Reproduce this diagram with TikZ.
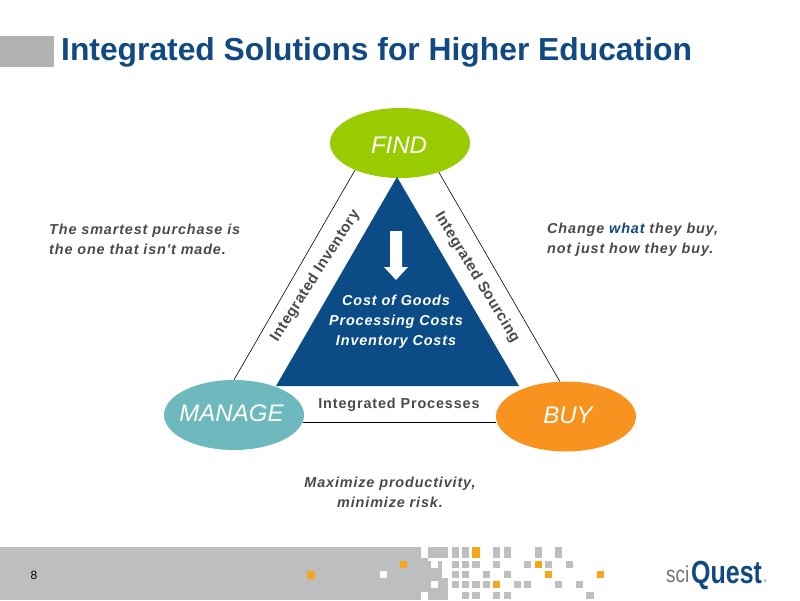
\documentclass[tikz,border=0pt]{standalone}
\usepackage{fontspec}
\setmainfont{Liberation Sans}
\newfontfamily\wide[LetterSpace=6]{Liberation Sans}
\newfontfamily\slant[LetterSpace=3]{Liberation Sans}
\usetikzlibrary{shapes.geometric}
\definecolor{navy}{HTML}{0B4C87}
\definecolor{titleblue}{HTML}{114A82}
\definecolor{bandgray}{HTML}{BCBEC0}
\definecolor{sqgray}{HTML}{BDBFC1}
\definecolor{sqorange}{HTML}{F9A51A}
\definecolor{txtgray}{HTML}{4A4A4A}
\definecolor{findgreen}{HTML}{99CC00}
\definecolor{manageteal}{HTML}{6DB9BD}
\definecolor{buyorange}{HTML}{F7931E}
\newcommand{\px}[1]{\fontsize{#1}{20}\selectfont}
\tikzset{
  hub/.style={ellipse,minimum width=140pt,minimum height=70pt,inner sep=0pt,text=white},
  hubfont/.style={font=\px{24}\itshape},
  link/.style={draw=black,line width=0.6pt},
  quote/.style={inner sep=0pt,text=txtgray,font=\wide\px{14.4}\bfseries\itshape},
  side/.style={inner sep=0pt,text=txtgray,font=\slant\px{15}\bfseries},
}
\newcommand{\sq}[3]{\fill[#3] ({400+10.35*#1},#2) rectangle +(7.2,7.2);}
\newcommand{\sqt}[2]{\fill[#2] ({400+10.35*#1},547) rectangle +(7.2,11);}
\begin{document}
\begin{tikzpicture}[x=1pt,y=-1pt]
\useasboundingbox (0,0) rectangle (800,600);
\fill[white] (0,0) rectangle (800,600);
% header
\fill[black!30] (0,36) rectangle (54,67);
\node[anchor=base west,inner sep=0pt,text=titleblue,font=\px{31.8}\bfseries] (title) at (61,60) {Integrated Solutions for Higher Education};
% hubs
\node[hub,fill=findgreen] (find) at (400,143) {};
\node[hub,fill=manageteal] (manage) at (234,415) {};
\node[hub,fill=buyorange] (buy) at (566,416.5) {};
\node[hubfont,text=white,inner sep=0pt] (findt) at (399,145) {FIND};
\node[hubfont,text=white,inner sep=0pt] (managet) at (231.5,413) {MANAGE};
\node[hubfont,text=white,inner sep=0pt] (buyt) at (568,415) {BUY};
% connectors
\draw[link] (manage.north) -- (find.211);
\draw[link] (find.-37) -- (buy.100);
\draw[link,line width=0.9pt] (manage.-6.3) -- (buy.184.5 |- manage.-6.3);
% triangle
\fill[navy] (397,177) -- (519,386) -- (276,386) -- cycle;
\fill[white] (390,231) -- (402,231) -- (402,267) -- (408,267) -- (396,280) -- (384,267) -- (390,267) -- cycle;
\node[quote,text=white,align=center] (costs) at (396,322) {Cost of Goods\\Processing Costs\\Inventory Costs};
% side labels
\node[side,rotate=57.4] (inv) at (315.5,276) {Integrated Inventory};
\node[side,rotate=-58.6] (src) at (477,277.5) {Integrated Sourcing};
\node[side,font=\wide\px{14.4}\bfseries] (proc) at (399,405) {Integrated Processes};
% quotes
\node[quote,anchor=west,align=left] (q1) at (49,239.5) {The smartest purchase is\\the one that isn't made.};
\node[quote,anchor=west,align=left] (q2) at (547,240) {Change \textcolor{titleblue}{what} they buy,\\not just how they buy.};
\node[quote,align=center] (q3) at (390,492) {Maximize productivity,\\minimize risk.};
% footer band
\fill[bandgray] (0,547) rectangle (448,600);
\fill[white] (421,547) rectangle (428,558);
\fill[white] (428,558) rectangle (448,561);
\fill[white] (431,561) rectangle (438,568);
\fill[white] (442,561) rectangle (448,578);
\fill[white] (431,581) rectangle (438,588);
\fill[white] (421,592) rectangle (428,600);
\fill[sqorange] (307,571) rectangle (315,579);
\fill[white] (380,571) rectangle (387,578);
\fill[sqorange] (400,561) rectangle (407.3,568);
\foreach \c in {5,6,9,10,13,15} {\sqt{\c}{sqgray}}
\sqt{7}{sqorange}
\foreach \c in {5,6,7,9,12,14,16} {\sq{\c}{561}{sqgray}}
\sq{13}{561}{sqorange}
\foreach \c in {5,6,8,10} {\sq{\c}{571}{sqgray}}
\sq{14}{571}{sqorange}
\sq{19}{571}{sqorange}
\foreach \c in {5,6,7,8,11,12,15,17} {\sq{\c}{581}{sqgray}}
\sq{9}{581}{sqorange}
\foreach \c in {6,7,9,10,18} {\sq{\c}{592}{sqgray}}
\node[inner sep=0pt,text=black,font=\px{12}] (pageno) at (34,575) {8};
% logo
\node[anchor=base west,inner sep=0pt,font=\px{21},text=black!55] (sci) at (666,582) {\scalebox{.9}[1.1]{sci}};
\node[anchor=base west,inner sep=0pt,font=\px{32}\bfseries,text=titleblue] (quest) at (691,583) {\scalebox{.78}[1]{Quest}};
\node[inner sep=0pt,font=\px{4},text=titleblue] (reg) at (765,581) {®};
\end{tikzpicture}
\end{document}
